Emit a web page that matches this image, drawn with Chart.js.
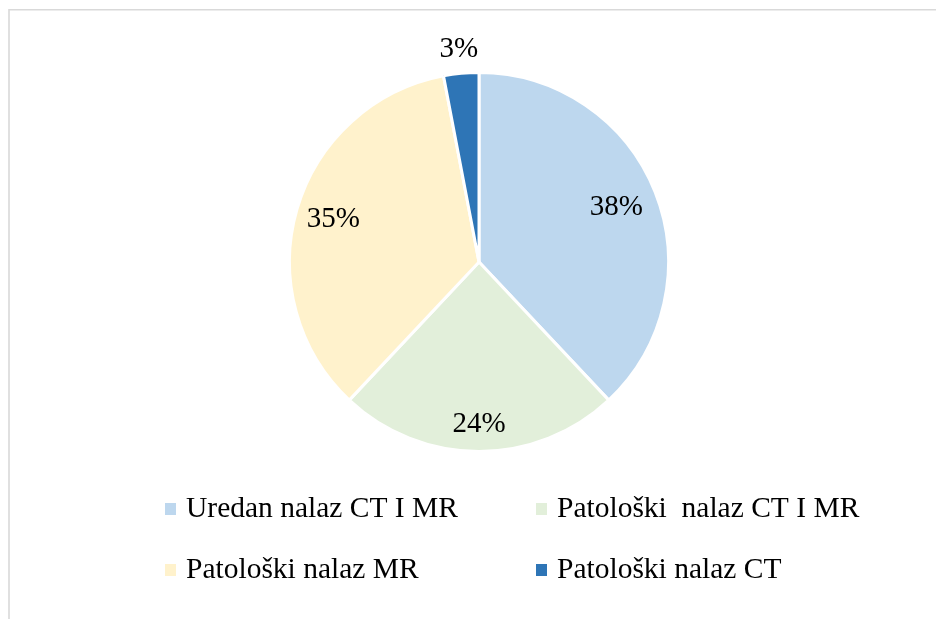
<!DOCTYPE html>
<html>
<head>
<meta charset="utf-8">
<script src="https://cdn.jsdelivr.net/npm/chart.js@4/dist/chart.umd.min.js"></script>
<style>
html,body{margin:0;padding:0;background:#fff;}
#wrap{position:relative;width:936px;height:619px;}
</style>
</head>
<body>
<div id="wrap"><canvas id="c" width="936" height="619"></canvas></div>
<script>
const categories = ["Uredan nalaz CT I MR", "Patološki  nalaz CT I MR", "Patološki nalaz MR", "Patološki nalaz CT"];
const percentages = [38, 24, 35, 3];
const colors = ["#BDD7EE", "#E2EFDA", "#FFF2CC", "#2E75B6"];
const labelRadiusFactors = [0.78, 0.855, 0.80, 1.125];

const FONT = "'Liberation Serif', 'Times New Roman', serif";

const framePlugin = {
  id: 'frame',
  beforeDraw(chart) {
    const ctx = chart.ctx;
    ctx.save();
    ctx.fillStyle = '#fff';
    ctx.fillRect(0, 0, chart.width, chart.height);
    ctx.strokeStyle = '#d9d9d9';
    ctx.lineWidth = 1.6;
    ctx.beginPath();
    ctx.moveTo(9, chart.height + 5);
    ctx.lineTo(9, 9.8);
    ctx.lineTo(chart.width + 5, 9.8);
    ctx.stroke();
    ctx.restore();
  }
};

const labelPlugin = {
  id: 'sliceLabels',
  afterDatasetsDraw(chart) {
    const ctx = chart.ctx;
    const meta = chart.getDatasetMeta(0);
    ctx.save();
    ctx.font = "29px " + FONT;
    ctx.fillStyle = '#000';
    ctx.textAlign = 'center';
    ctx.textBaseline = 'middle';
    meta.data.forEach((arc, i) => {
      const p = arc.getProps(['x', 'y', 'startAngle', 'endAngle', 'outerRadius'], true);
      const mid = (p.startAngle + p.endAngle) / 2;
      const r = p.outerRadius * labelRadiusFactors[i];
      ctx.fillText(percentages[i] + '%', p.x + Math.cos(mid) * r, p.y + Math.sin(mid) * r);
    });
    ctx.restore();
  }
};

const legendPlugin = {
  id: 'customLegend',
  afterDraw(chart) {
    const ctx = chart.ctx;
    const cols = [165, 536];
    const rows = [509, 570];
    ctx.save();
    ctx.font = "29.5px " + FONT;
    ctx.fillStyle = '#000';
    ctx.textBaseline = 'middle';
    ctx.textAlign = 'left';
    chart.data.labels.forEach((lab, i) => {
      const x = cols[i % 2];
      const y = rows[Math.floor(i / 2)];
      ctx.fillStyle = chart.data.datasets[0].backgroundColor[i];
      ctx.fillRect(x, y - 6, 11, 12);
      ctx.fillStyle = '#000';
      ctx.fillText(lab, x + 21, y);
    });
    ctx.restore();
  }
};

new Chart(document.getElementById('c'), {
  type: 'pie',
  data: {
    labels: categories,
    datasets: [{
      data: percentages,
      backgroundColor: colors,
      borderColor: '#ffffff',
      borderWidth: 3
    }]
  },
  options: {
    responsive: false,
    animation: false,
    events: [],
    layout: { padding: { left: 288, right: 266, top: 71, bottom: 166 } },
    plugins: {
      legend: { display: false },
      tooltip: { enabled: false }
    }
  },
  plugins: [framePlugin, labelPlugin, legendPlugin]
});
</script>
</body>
</html>
